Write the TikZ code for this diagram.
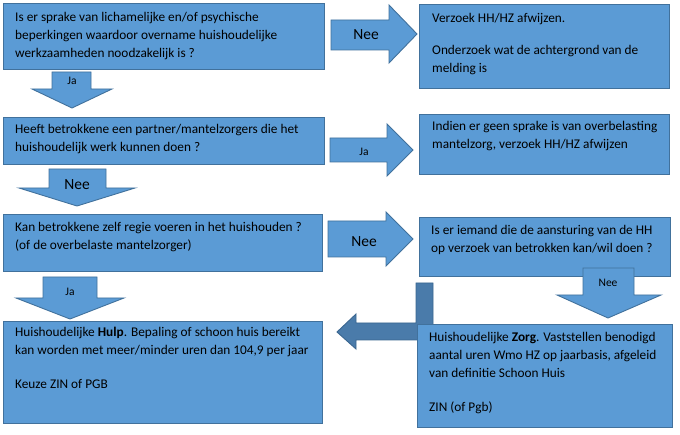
\documentclass[tikz,border=0pt]{standalone}
\usepackage{fontspec}
\setmainfont{Carlito}
\definecolor{boxfill}{HTML}{5B9BD5}
\definecolor{boxline}{HTML}{41719C}
\definecolor{darkfill}{HTML}{4A7BAA}
\definecolor{darkline}{HTML}{3A6690}
\begin{document}
\begin{tikzpicture}[x=1pt,y=-1pt,
  box/.style={draw=boxline,fill=boxfill,line width=0.9pt,inner sep=0pt},
  blk/.style={draw=boxline,fill=boxfill,line width=0.9pt,line join=miter},
  txt/.style={anchor=north west,inner sep=0pt,align=left,font=\fontsize{13.3}{18}\selectfont},
  bigl/.style={inner sep=0pt,font=\fontsize{15.5}{18}\selectfont},
  smalll/.style={inner sep=0pt,font=\fontsize{11.5}{13}\selectfont}]
\fill[white] (0,0) rectangle (680,435);
\useasboundingbox (0,0) rectangle (680,435);

% boxes
\node[box,anchor=north west,minimum width=321pt,minimum height=66pt] (b1) at (3,3) {};
\node[box,anchor=north west,minimum width=250pt,minimum height=84pt] (b2) at (419,4) {};
\node[box,anchor=north west,minimum width=321pt,minimum height=47pt] (b3) at (3,117) {};
\node[box,anchor=north west,minimum width=250pt,minimum height=60pt] (b4) at (419,114) {};
\node[box,anchor=north west,minimum width=319pt,minimum height=57pt] (b5) at (3,214) {};
\node[box,anchor=north west,minimum width=251pt,minimum height=59pt] (b6) at (419,217) {};
\node[box,anchor=north west,minimum width=319pt,minimum height=102pt] (b7) at (3,321) {};

% arrow 1: right, Nee
\draw[blk] (331,20) -- (389,20) -- (389,5) -- (417,34) -- (389,63) -- (389,50) -- (331,50) -- cycle;
\node[bigl] (l1) at (366,35) {Nee};
% arrow 2: down, Ja
\draw[blk] (52,72) -- (91,72) -- (91,89) -- (112,89) -- (72,108) -- (32,89) -- (52,89) -- cycle;
\node[smalll] (l2) at (72,81) {Ja};
% arrow 3: right, Ja
\draw[blk] (330,138) -- (387,138) -- (387,124) -- (413,150) -- (387,176) -- (387,162) -- (330,162) -- cycle;
\node[smalll] (l3) at (364,152) {Ja};
% arrow 4: down, Nee
\draw[blk] (49,169) -- (106,169) -- (106,188) -- (135,188) -- (77,206) -- (19,188) -- (49,188) -- cycle;
\node[bigl] (l4) at (77,185) {Nee};
% arrow 5: right, Nee
\draw[blk] (328,221) -- (386,221) -- (386,212) -- (413,239) -- (386,266) -- (386,257) -- (328,257) -- cycle;
\node[bigl] (l5) at (364,242) {Nee};
% arrow 6: down, Ja
\draw[blk] (43,277) -- (97,277) -- (97,298) -- (124,298) -- (70,319) -- (16,298) -- (43,298) -- cycle;
\node[smalll] (l6) at (70,292) {Ja};
% arrow 7: down, Nee (right column)
\draw[blk] (583,268) -- (634,268) -- (634,295) -- (661,295) -- (608,318) -- (557,295) -- (583,295) -- cycle;
\node[smalll] (l7) at (608,283) {Nee};
% bent dark arrow
\draw[draw=darkline,fill=darkfill,line width=0.9pt] (416,283) -- (433,283) -- (433,340) -- (356,340) -- (356,349) -- (337,332) -- (356,314) -- (356,323) -- (416,323) -- cycle;

\node[box,anchor=north west,minimum width=255pt,minimum height=103pt] (b8) at (417,324) {};

% texts
\node[txt] (t1) at ([shift={(12,9)}]b1.north west) {Is er sprake van lichamelijke en/of psychische\\beperkingen waardoor overname huishoudelijke\\werkzaamheden noodzakelijk is ?};
\node[txt] (t2) at ([shift={(13,9)}]b2.north west) {Verzoek HH/HZ afwijzen.\\[14pt]Onderzoek wat de achtergrond van de\\melding is};
\node[txt] (t3) at ([shift={(12,7)}]b3.north west) {Heeft betrokkene een partner/mantelzorgers die het\\huishoudelijk werk kunnen doen ?};
\node[txt] (t4) at ([shift={(13,7)}]b4.north west) {Indien er geen sprake is van overbelasting\\mantelzorg, verzoek HH/HZ afwijzen};
\node[txt] (t5) at ([shift={(12,8)}]b5.north west) {Kan betrokkene zelf regie voeren in het huishouden ?\\(of de overbelaste mantelzorger)};
\node[txt] (t6) at ([shift={(12,8)}]b6.north west) {Is er iemand die de aansturing van de HH\\op verzoek van betrokken kan/wil doen ?};
\node[txt] (t7) at ([shift={(12,6)}]b7.north west) {Huishoudelijke \textbf{Hulp}. Bepaling of schoon huis bereikt\\kan worden met meer/minder uren dan 104,9 per jaar\\[16pt]Keuze ZIN of PGB};
\node[txt] (t8) at ([shift={(12,8)}]b8.north west) {Huishoudelijke \textbf{Zorg}. Vaststellen benodigd\\aantal uren Wmo HZ op jaarbasis, afgeleid\\van definitie Schoon Huis\\[16pt]ZIN (of Pgb)};
\end{tikzpicture}
\end{document}
